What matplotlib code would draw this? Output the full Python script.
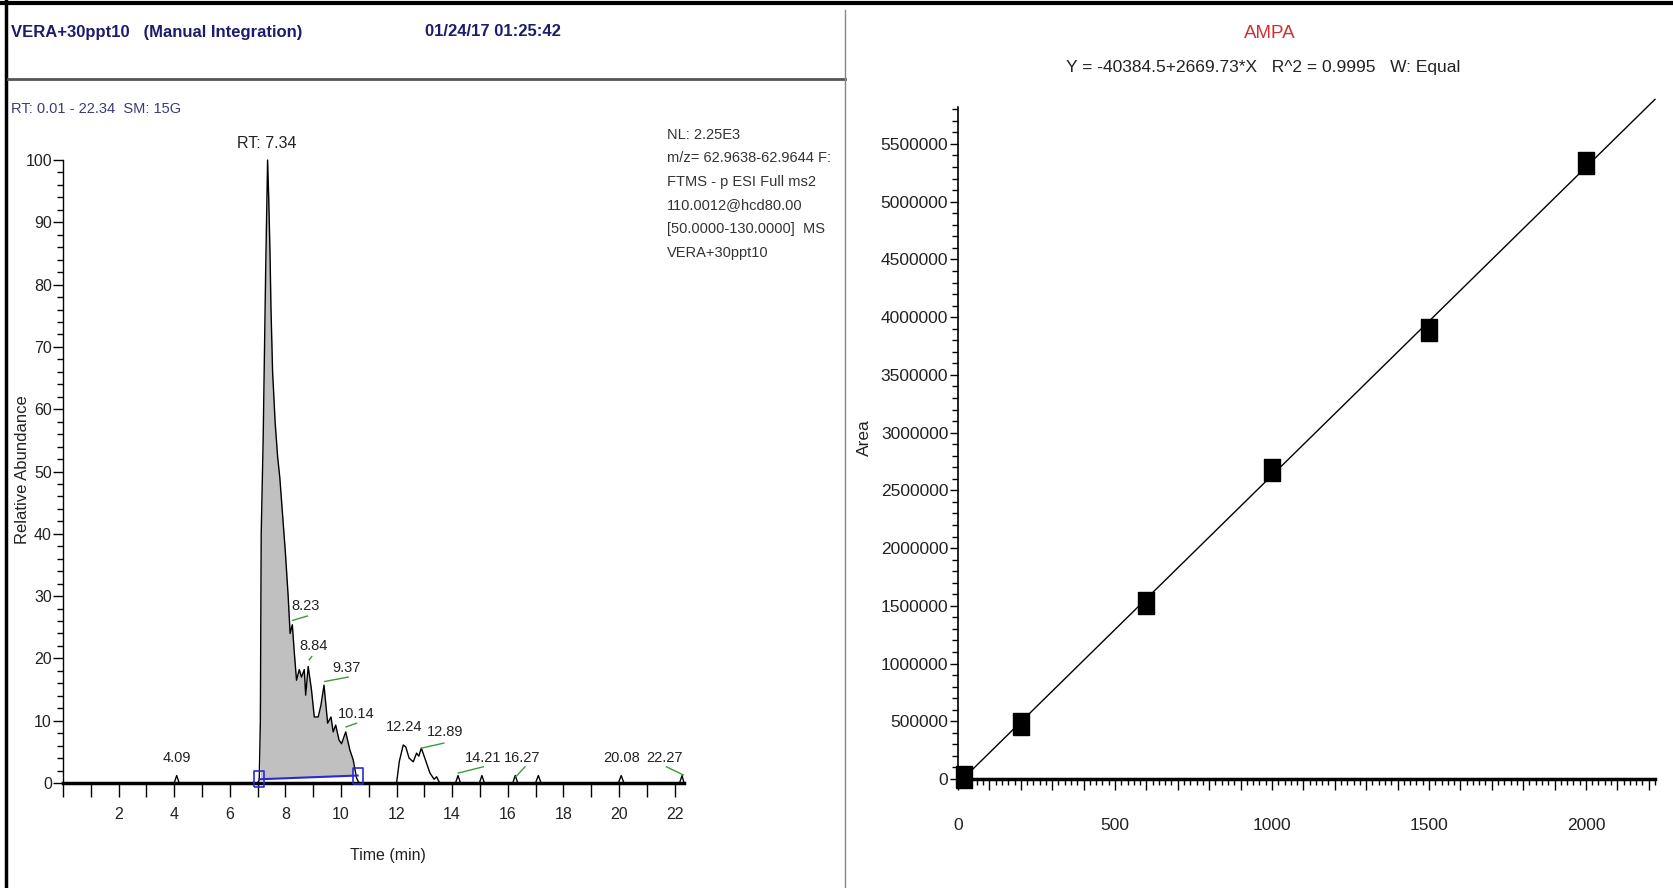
import numpy as np
import matplotlib
matplotlib.use("Agg")
import matplotlib.pyplot as plt
from matplotlib.ticker import MultipleLocator, FuncFormatter
from matplotlib.lines import Line2D

# chromatogram trace (time in min, relative abundance %)
rt_time = [0.01, 4.0, 4.09, 4.18, 7.0, 7.06, 7.1, 7.13, 7.2, 7.29, 7.36, 7.4, 7.45,
           7.48, 7.54, 7.63, 7.72, 7.8, 7.9, 8.0, 8.1, 8.17, 8.25, 8.32, 8.4, 8.5,
           8.58, 8.68, 8.73, 8.82, 8.94, 9.04, 9.18, 9.28, 9.39, 9.52, 9.64, 9.72,
           9.81, 9.93, 10.02, 10.17, 10.32, 10.44, 10.56, 10.65, 12.0, 12.1, 12.24,
           12.33, 12.45, 12.6, 12.72, 12.8, 12.89, 13.0, 13.2, 13.35, 13.44, 13.55,
           14.12, 14.21, 14.3, 14.98, 15.07, 15.16, 16.18, 16.27, 16.36, 17.0, 17.1,
           17.2, 19.98, 20.08, 20.18, 22.18, 22.27, 22.34]
rel_abund = [0, 0, 1.2, 0, 0, 0.5, 10, 40, 55, 82, 100, 94, 84.5,
             76.5, 66, 58, 52.4, 49, 43, 37, 30, 24, 25.4, 21, 16.5, 18.2,
             17, 18.2, 14.1, 18.7, 14.9, 10.6, 10.6, 12.5, 15.7, 9.6, 10.6, 8.2,
             9.3, 6.9, 6.3, 8.2, 5.3, 3.7, 0.8, 0, 0, 3.5, 6.1,
             5.8, 4.0, 3.4, 4.8, 4.3, 5.6, 4.2, 1.6, 0.6, 1.0, 0,
             0, 1.2, 0, 0, 1.2, 0, 0, 1.2, 0, 0, 1.2,
             0, 0, 1.2, 0, 0, 1.2, 0]

# integration window and baseline
integ_t = [7.06, 10.6]
integ_base = [0.6, 1.2]

# peak labels
peak_labels = ["4.09", "8.23", "8.84", "9.37", "10.14", "12.24", "12.89",
               "14.21", "16.27", "20.08", "22.27"]
label_t = [4.09, 8.74, 9.03, 10.2, 10.56, 12.28, 13.75, 15.12, 16.53, 20.1, 21.65]
label_i = [2.9, 27.3, 20.9, 17.4, 9.9, 7.9, 7.0, 2.9, 2.9, 2.9, 2.9]
# green leader lines (peak -> label)
leaders = [None, (8.26, 26.1, 8.79, 26.8), (8.86, 19.8, 8.95, 20.3),
           (9.42, 16.3, 10.26, 17.0), (10.18, 9.0, 10.56, 9.6), None,
           (12.9, 5.6, 13.7, 6.4), (14.22, 1.6, 15.12, 2.6),
           (16.29, 1.0, 16.62, 2.6), None, (21.71, 2.6, 22.31, 1.3)]

# calibration curve
conc = [20, 200, 600, 1000, 1500, 2000]
area = [15000, 475000, 1525000, 2680000, 3892000, 5334000]
intercept = -40384.5
slope = 2669.73

W, H = 1674, 888
FONT = ['Liberation Sans', 'DejaVu Sans']
NAVY = '#1c1c6e'
TXT = '#222222'


def px(x, y):
    return x / W, 1 - y / H


fig = plt.figure(figsize=(W / 100, H / 100), dpi=100)
fig.patch.set_facecolor('white')

# frame lines of the screenshot
fig.add_artist(Line2D([0, 1], [1 - 3 / H, 1 - 3 / H], color='black', lw=3))
fig.add_artist(Line2D([6 / W, 6 / W], [0, 1], color='black', lw=2.5))
fig.add_artist(Line2D([8 / W, 845 / W], [1 - 79 / H, 1 - 79 / H], color='#555555', lw=2))
fig.add_artist(Line2D([845 / W, 845 / W], [0, 1 - 10 / H], color='#888888', lw=1))

# header texts
fig.text(*px(11, 32), "VERA+30ppt10   (Manual Integration)", family=FONT,
         weight='bold', fontsize=12, color=NAVY, va='center', ha='left')
fig.text(*px(493, 32), "01/24/17 01:25:42", family=FONT, weight='bold',
         fontsize=12, color=NAVY, va='center', ha='center')
fig.text(*px(11, 109), "RT: 0.01 - 22.34  SM: 15G", family=FONT,
         fontsize=10.5, color='#3a3a7a', va='center', ha='left')

info = ["NL: 2.25E3", "m/z= 62.9638-62.9644 F:", "FTMS - p ESI Full ms2",
        "110.0012@hcd80.00", "[50.0000-130.0000]  MS", "VERA+30ppt10"]
for k, s in enumerate(info):
    fig.text(*px(667, 135 + k * 23.5), s, family=FONT, fontsize=10.5,
             color='#333333', va='center', ha='left')

# ---- chromatogram ----
ax = fig.add_axes([63 / W, 1 - 783 / H, (684 - 63) / W, (783 - 160) / H])
t = np.array(rt_time)
a = np.array(rel_abund)
ax.plot(t, a, color='black', lw=1, clip_on=False, zorder=3)
m = (t >= integ_t[0]) & (t <= integ_t[1])
base = np.interp(t[m], integ_t, integ_base)
ax.fill_between(t[m], a[m], base, where=a[m] >= base, color='#c0c0c0', zorder=2,
                lw=0)
ax.plot(integ_t, integ_base, color='#2a2ad0', lw=1.5, zorder=4)
box = [(-0.3, -0.5), (0.3, -0.5), (0.3, 0.5), (-0.3, 0.5), (-0.3, -0.5)]
ax.plot(integ_t, integ_base, ls='none', marker=box, ms=12, mfc='none',
        mec='#2a2ad0', mew=1.2, zorder=5, clip_on=False)

ax.text(7.34, 101.5, "RT: 7.34", family=FONT, fontsize=11.5, ha='center',
        va='bottom', color=TXT)
for k, s in enumerate(peak_labels):
    ax.text(label_t[k], label_i[k], s, family=FONT, fontsize=10.5, ha='center',
            va='bottom', color=TXT, zorder=6)
    if leaders[k] is not None:
        x0, y0, x1, y1 = leaders[k]
        ax.plot([x0, x1], [y0, y1], color='#3c9a3c', lw=1, zorder=5)

ax.set_xlim(0, 22.34)
ax.set_ylim(0, 100)
ax.xaxis.set_major_locator(MultipleLocator(2))
ax.xaxis.set_minor_locator(MultipleLocator(1))
ax.xaxis.set_major_formatter(FuncFormatter(lambda v, p: "" if v == 0 else "%d" % v))
ax.yaxis.set_major_locator(MultipleLocator(10))
ax.yaxis.set_minor_locator(MultipleLocator(2))
ax.tick_params(axis='x', which='both', length=10, width=1, direction='out', pad=7)
ax.tick_params(axis='y', which='major', length=7, width=1, pad=1)
ax.tick_params(axis='y', which='minor', length=4, width=1)
for lab in ax.get_xticklabels() + ax.get_yticklabels():
    lab.set_family(FONT)
    lab.set_fontsize(11.5)
    lab.set_color(TXT)
for sp in ['top', 'right']:
    ax.spines[sp].set_visible(False)
ax.spines['bottom'].set_linewidth(2.5)
ax.spines['left'].set_linewidth(1)
fig.text(*px(388, 855), "Time (min)", family=FONT, fontsize=11.5, color=TXT,
         ha='center', va='center')
fig.text(*px(23, 470), "Relative Abundance", family=FONT, fontsize=12,
         color=TXT, ha='center', va='center', rotation=90)

# ---- calibration curve ----
bx = fig.add_axes([958 / W, 1 - 779 / H, (1655 - 958) / W, 672 / H])
xl = np.array([15, 2220])
bx.plot(xl, intercept + slope * xl, color='black', lw=1, clip_on=False)
pt = [(-0.35, -0.5), (0.35, -0.5), (0.35, 0.5), (-0.35, 0.5), (-0.35, -0.5)]
bx.plot(conc, area, ls='none', marker=pt, ms=16, color='black', clip_on=False,
        zorder=4)
bx.set_xlim(0, 2220)
bx.set_ylim(0, 5820000)
bx.xaxis.set_major_locator(MultipleLocator(100))
bx.xaxis.set_minor_locator(MultipleLocator(20))
bx.xaxis.set_major_formatter(FuncFormatter(lambda v, p: "%d" % v if v % 500 == 0 else ""))
bx.yaxis.set_major_locator(MultipleLocator(500000))
bx.yaxis.set_minor_locator(MultipleLocator(100000))
bx.yaxis.set_major_formatter(FuncFormatter(lambda v, p: "%d" % v))
bx.tick_params(axis='x', which='major', length=8, width=1, pad=20)
bx.tick_params(axis='x', which='minor', length=4, width=1)
bx.tick_params(axis='y', which='major', length=6, width=1, pad=1)
bx.tick_params(axis='y', which='minor', length=4, width=1)
for lab in bx.get_xticklabels() + bx.get_yticklabels():
    lab.set_family(FONT)
    lab.set_fontsize(12.5)
    lab.set_color(TXT)
for sp in ['top', 'right']:
    bx.spines[sp].set_visible(False)
bx.spines['bottom'].set_linewidth(2.5)
bx.spines['left'].set_linewidth(1.2)
fig.text(*px(864, 438), "Area", family=FONT, fontsize=12.5, color=TXT,
         ha='center', va='center', rotation=90)

fig.text(*px(1270, 34), "AMPA", family=FONT, fontsize=13.5, color='#d03030',
         ha='center', va='center')
fig.text(*px(1263, 67), "Y = -40384.5+2669.73*X   R^2 = 0.9995   W: Equal",
         family=FONT, fontsize=12.5, color=TXT, ha='center', va='center')

fig.savefig("out.png", dpi=100)
